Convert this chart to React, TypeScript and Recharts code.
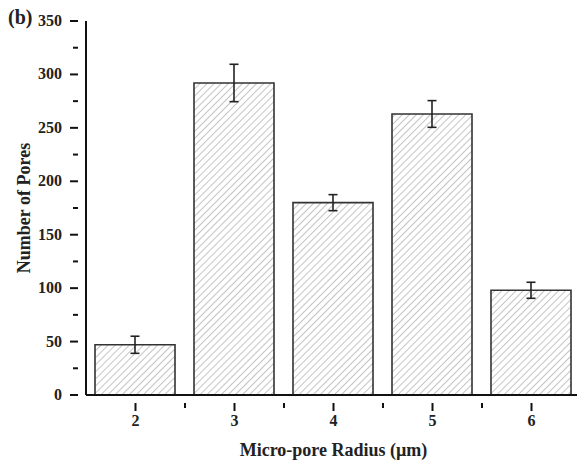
import { BarChart, Bar, XAxis, YAxis, ErrorBar } from "recharts";

const radii = [2, 3, 4, 5, 6];
const poreCounts = [47, 292, 180, 263, 98];
const poreErrors = [8, 17.5, 7.5, 12.5, 7.5];

const xTicks = [2, 2.5, 3, 3.5, 4, 4.5, 5, 5.5, 6, 6.5];
const yTicks = [0, 25, 50, 75, 100, 125, 150, 175, 200, 225, 250, 275, 300, 325, 350];

const data = radii.map((r, i) => ({ r, count: poreCounts[i], err: poreErrors[i] }));

const FONT = '"Liberation Serif", "Times New Roman", serif';

function YTick(props: any) {
  const { x, y, payload } = props;
  const major = payload.value % 50 === 0;
  const len = major ? 8 : 5;
  return (
    <g>
      <line x1={x - len} x2={x} y1={y} y2={y} stroke="#111" strokeWidth={2} />
      {major && (
        <text x={x - 16} y={y} dy={5} textAnchor="end" fontFamily={FONT} fontWeight="bold" fontSize={16} fill="#222">
          {payload.value}
        </text>
      )}
    </g>
  );
}

function XTick(props: any) {
  const { x, y, payload } = props;
  const major = Number.isInteger(payload.value);
  const len = major ? 8 : 5;
  return (
    <g>
      <line x1={x} x2={x} y1={y} y2={y + len} stroke="#111" strokeWidth={2} />
      {major && (
        <text x={x} y={y + 23} textAnchor="middle" fontFamily={FONT} fontWeight="bold" fontSize={16} fill="#222">
          {payload.value}
        </text>
      )}
    </g>
  );
}

export default function App() {
  return (
    <div style={{ position: "absolute", left: 0, top: 0, width: 577, height: 462, overflow: "hidden", background: "#fff" }}>
      <BarChart
        width={600}
        height={462}
        data={data}
        margin={{ top: 21, right: 19, bottom: 0, left: 0 }}
      >
        <defs>
          <pattern id="hatch" width="5" height="5" patternUnits="userSpaceOnUse" patternTransform="rotate(45)">
            <rect width="5" height="5" fill="#fff" />
            <line x1="0" y1="0" x2="0" y2="5" stroke="#b5b5b5" strokeWidth={1.6} />
          </pattern>
        </defs>
        <XAxis
          dataKey="r"
          type="number"
          domain={[1.5, 6.5]}
          ticks={xTicks}
          interval={0}
          height={67}
          tickLine={false}
          tick={<XTick />}
          axisLine={{ stroke: "#111", strokeWidth: 2 }}
          label={{ value: "Micro-pore Radius (\u00b5m)", position: "insideBottom", offset: 6, fontFamily: FONT, fontWeight: "bold", fontSize: 18, fill: "#222" }}
        />
        <XAxis
          xAxisId="top"
          orientation="top"
          type="number"
          domain={[1.5, 6.5]}
          height={0}
          tick={false}
          tickLine={false}
          axisLine={{ stroke: "#111", strokeWidth: 2 }}
        />
        <YAxis
          type="number"
          domain={[0, 350]}
          ticks={yTicks}
          interval={0}
          width={86}
          tickLine={false}
          tick={<YTick />}
          axisLine={{ stroke: "#111", strokeWidth: 2 }}
          label={{ value: "Number of  Pores", angle: -90, position: "insideLeft", offset: 24, style: { textAnchor: "middle", whiteSpace: "pre" }, fontFamily: FONT, fontWeight: "bold", fontSize: 18, fill: "#222" }}
        />
        <Bar dataKey="count" barSize={80} fill="url(#hatch)" stroke="#333" strokeWidth={1.6} isAnimationActive={false}>
          <ErrorBar dataKey="err" width={4.5} stroke="#222" strokeWidth={1.6} isAnimationActive={false} />
        </Bar>
      </BarChart>
      <div style={{ position: "absolute", left: 8, top: 6, fontFamily: FONT, fontWeight: "bold", fontSize: 20, color: "#222" }}>(b)</div>
    </div>
  );
}
